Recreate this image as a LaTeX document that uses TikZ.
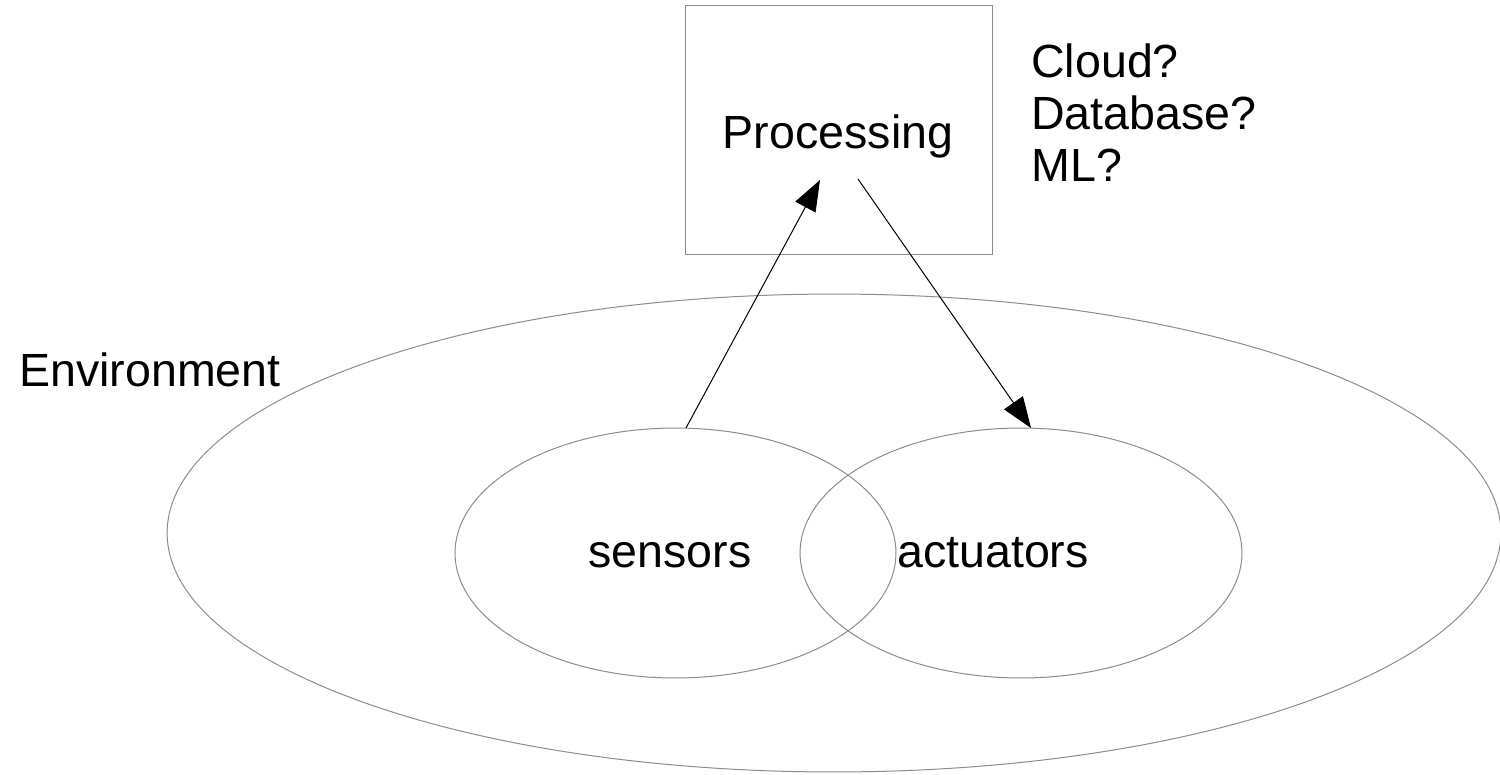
\documentclass[tikz,border=0pt]{standalone}
\usepackage{fontspec}
\setmainfont{Liberation Sans}
\usetikzlibrary{shapes.geometric,arrows.meta}
\definecolor{linegray}{RGB}{140,140,140}
\tikzset{
  txt/.style={font=\fontsize{26.5}{29.5}\selectfont, inner sep=0pt},
  grayline/.style={draw=linegray, line width=0.57pt},
  boxnode/.style={grayline, rectangle, minimum width=6.16cm, minimum height=5cm, inner sep=0pt},
  ell/.style={grayline, ellipse, inner sep=0pt},
  arr/.style={draw=black, line width=0.57pt, -{Triangle[length=17.5pt, width=13pt]}}
}
\begin{document}
\begin{tikzpicture}[x=0.02cm, y=-0.02cm]
\useasboundingbox (0,0) rectangle (1500,774);
% Environment
\node[ell, minimum width=26.68cm, minimum height=9.56cm] (env) at (834,533) {};
\node[txt, anchor=base west] (envlabel) at (19,386) {Environment};
% sensors / actuators
\node[ell, minimum width=8.82cm, minimum height=5cm] (sens) at (675.5,553) {};
\node[ell, minimum width=8.84cm, minimum height=5cm] (act) at (1021,553) {};
\node[txt, anchor=base] (senslabel) at (670,567) {sensors};
\node[txt, anchor=base] (actlabel) at (993,567) {actuators};
% Processing
\node[boxnode] (proc) at (839,130) {};
\node[txt, anchor=base] (proclabel) at (838,148) {Processing};
\node[txt, anchor=base west, align=left] (notes) at (1031,181) {Cloud?\\Database?\\ML?};
% connectors
\coordinate (sensTop) at (686,428);
\coordinate (procIn) at (820,180);
\coordinate (procOut) at (858,179);
\coordinate (actTop) at (1031,428);
\draw[arr] (sensTop) -- (procIn);
\draw[arr] (procOut) -- (actTop);
\end{tikzpicture}
\end{document}
